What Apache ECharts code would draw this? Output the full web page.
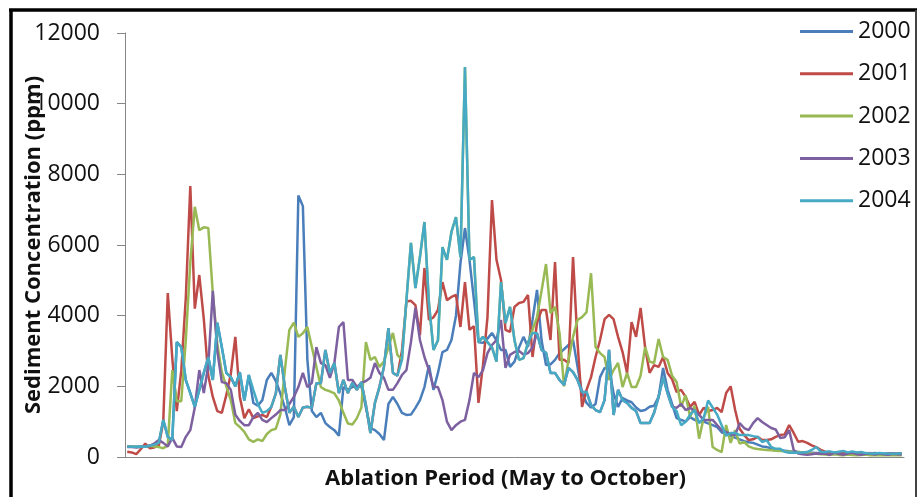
<!DOCTYPE html>
<html><head><meta charset="utf-8">
<script src="https://cdn.jsdelivr.net/npm/echarts@6/dist/echarts.min.js"></script>
<style>html,body{margin:0;padding:0;background:#fff}#c{width:918px;height:497px}</style>
</head><body><div id="c"></div>
<script>
// Day index of the ablation period (May to October), 173 daily samples
const days = Array.from({length: 173}, (_, i) => i + 1);
const seriesNames = ['2000', '2001', '2002', '2003', '2004'];
const yMin = 0, yMax = 12000, yStep = 2000;

const s2000 = [300,290,290,300,290,320,350,400,1050,570,
480,3250,3110,2180,1810,1420,1900,2380,2830,2180,
3800,3110,2380,2260,2000,2400,1600,2320,
1530,1450,1610,2180,2380,2150,1800,1400,900,1130,7400,7100,
2750,1300,1130,1250,960,850,760,600,1980,1900,
1980,2000,2000,1400,820,760,650,480,1500,1700,
1500,1250,1190,1200,1390,1610,1980,2600,1900,2380,
2970,3030,3310,4000,5490,6480,5580,4440,3250,3230,
3350,3510,3300,3030,3030,2550,2700,3100,3400,3110,
3880,4730,3310,2600,2620,2750,2940,3050,3170,3310,
2550,1810,1530,1400,1500,2260,2520,2500,1800,1420,
1670,1600,1550,1400,1300,1330,1420,1450,1700,2520,
1900,1500,1100,1050,1000,1130,1050,1000,1000,950,
900,850,700,650,600,550,500,450,420,400,
350,300,280,250,220,200,180,160,150,140,
130,120,120,110,110,100,120,100,90,110,
100,100,120,100,90,100,110,100,90,100,
100,90,100];

const s2001 = [150,130,80,220,380,250,270,320,1000,4640,
2800,1300,2450,4500,7670,4200,5150,3900,2300,1700,
1300,1250,1750,2350,3400,1700,1100,1350,1100,1150,
1190,1130,
1420,1800,2890,1980,1250,1420,1130,1400,1420,1390,2090,2090,3030,2380,2660,1810,2180,1810,2100,1900,2120,1470,680,1530,1980,2550,3650,2380,2300,
3000,4400,4420,4300,3450,5350,3880,3950,4160,
4950,4440,4530,4585,3680,4950,3600,3700,1530,2600,
3960,7270,5580,5010,3600,3540,4250,4360,4390,4585,
2830,3800,4160,4160,3310,5520,2750,2750,2660,5660,
3230,1420,1900,2260,2830,3310,3900,4020,3900,3400,
2970,2380,3820,3400,4220,3110,2380,2600,2550,2830,
2380,2200,1840,1900,1700,1420,1560,1190,1390,1300,
1330,1390,1270,1810,2000,1330,800,620,480,500,
570,480,480,500,570,620,640,905,680,430,
450,400,330,280,200,150,120,100,90,110,
100,80,100,90,100,110,90,100,80,100,
90,100,100];

const s2002 = [300,300,290,280,300,320,300,280,250,320,
2460,1580,1580,3300,5500,7080,6420,6500,6480,4640,
3200,2400,2000,1610,960,850,710,500,430,500,
450,650,760,800,1200,2460,3600,3800,3400,3500,
3680,3110,2550,1980,1900,1860,1800,1600,1250,950,
920,1100,1400,3250,2750,2830,2550,2700,3100,3510,
2890,
2750,4440,6060,4780,5660,6650,4360,3030,3300,5940,5580,6370,6790,5660,11040,5580,5660,3250,3400,3250,3100,2700,4950,3790,4250,3300,2750,2800,3230,
3600,3960,4700,5460,4070,4250,3500,2000,2750,3400,
3880,3960,4100,5200,3110,2940,2830,2180,2460,2660,
1980,2380,1980,1980,2300,3110,2700,2660,3340,2830,
2750,2300,2120,1420,1750,1130,1450,520,1100,1420,
283,200,140,905,400,760,380,425,300,250,
226,210,200,190,180,170,160,150,150,140,
130,110,100,90,80,70,60,80,60,50,
70,60,50,60,70,50,60,50,60,50,
60,50,50];

const s2003 = [280,280,270,280,300,320,380,480,400,300,
540,300,280,570,760,1400,2460,1810,2600,4700,
3000,2120,2090,1900,1200,1020,900,900,1130,1250,
1050,990,1100,1200,1330,1330,1500,1700,1980,2380,
1980,2100,3110,2660,2600,2240,2660,3680,3820,2180,
2180,1980,2100,2150,2240,2660,2380,2240,1900,1900,
2090,2320,2460,3250,4220,3310,2830,2460,1980,1980,
1610,1000,760,900,1000,1050,1610,2380,2260,2460,
2940,3170,3310,3880,2520,2890,2970,3000,2900,2940,
3100,3510,
3030,2950,2380,2380,2180,2040,2520,2400,2180,1840,1840,1470,1330,1270,1610,3030,1190,1900,1610,1530,1390,1300,960,960,960,1250,1700,2260,1800,1420,
1390,1500,1330,1390,1300,1190,1050,1050,
1050,905,760,710,650,620,960,820,760,960,
1100,990,905,820,780,540,560,760,200,100,
80,60,80,100,90,100,60,120,90,60,
100,120,80,60,100,90,70,100,80,60,
90,80,70];

const s2004 = [300,290,290,300,290,320,350,400,1050,570,
480,3250,3110,2180,1810,1420,1900,2380,2830,2180,
3800,3110,2380,2260,2000,2400,1600,2320,1900,1500,
1250,1300,1420,1800,2890,1980,1250,1420,1130,1400,
1420,1390,2090,2090,3030,2380,2660,1810,2180,1810,
2100,1900,2120,1470,680,1530,1980,2550,3650,2380,
2300,2750,4440,6060,4780,5660,6650,4360,3030,3300,
5940,5580,6370,6790,5660,11040,5580,5660,3250,3400,
3250,3100,2700,4950,3790,4250,3300,2750,2800,3230,
3510,3500,3030,2950,2380,2380,2180,2040,2520,2400,
2180,1840,1840,1470,1330,1270,1610,3030,1190,1900,
1610,1530,1390,1300,960,960,960,1250,1700,2260,
1800,1420,1300,900,1000,1200,1330,960,1100,1600,
1400,1200,900,600,680,680,620,620,620,590,
570,425,480,283,230,230,150,120,130,120,
130,140,200,283,150,140,160,130,150,170,
130,160,130,140,110,100,100,110,100,100,
90,100,100];

const seriesData = [s2000, s2001, s2002, s2003, s2004];
const colors = ['#4A7EBB', '#BE4B48', '#98B954', '#7D60A0', '#46AAC5'];

const chart = echarts.init(document.getElementById('c'), null, {renderer: 'canvas'});
chart.setOption({
  animation: false,
  backgroundColor: '#fff',
  color: colors,
  grid: {left: 125, right: 14, top: 33, bottom: 40, containLabel: false, outerBoundsMode: 'none'},
  legend: {
    orient: 'vertical', left: 795, top: 15,
    itemWidth: 53, itemHeight: 3, itemGap: 19.3, icon: 'rect',
    textStyle: {fontFamily: 'Open Sans', fontSize: 23, lineHeight: 22, color: '#111'},
    data: seriesNames
  },
  xAxis: {
    type: 'category', data: days, boundaryGap: true,
    axisLine: {lineStyle: {color: '#868686', width: 1}},
    axisTick: {interval: 9, length: 8, lineStyle: {color: '#868686'}},
    axisLabel: {show: false},
    name: 'Ablation Period (May to October)', nameLocation: 'middle', nameGap: 11,
    nameMoveOverlap: false,
    nameTextStyle: {fontFamily: 'Open Sans', fontWeight: 'bold', fontSize: 22, color: '#111', padding: [0, 18, 0, 0]}
  },
  yAxis: {
    type: 'value', min: yMin, max: yMax, interval: yStep,
    splitLine: {show: false},
    axisLine: {show: true, lineStyle: {color: '#868686', width: 1}},
    axisTick: {show: true, length: 8, lineStyle: {color: '#868686'}},
    axisLabel: {margin: 25, fontFamily: 'Open Sans', fontSize: 23, color: '#111', formatter: v => String(v)},
    name: 'Sediment Concentration (ppm)', nameLocation: 'middle', nameGap: 80,
    nameMoveOverlap: false,
    nameTextStyle: {fontFamily: 'Open Sans', fontWeight: 'bold', fontSize: 22, color: '#111'}
  },
  series: seriesNames.map((n, k) => ({
    name: n, type: 'line', data: seriesData[k], showSymbol: false,
    lineStyle: {width: 2.5, color: colors[k]}, itemStyle: {color: colors[k]}
  })),
  graphic: [
    {type: 'line', silent: true, shape: {x1: 11, y1: 9, x2: 11, y2: 497}, style: {stroke: '#000', lineWidth: 3.5}},
    {type: 'line', silent: true, shape: {x1: 9, y1: 10, x2: 917, y2: 10}, style: {stroke: '#000', lineWidth: 3.5}},
    {type: 'line', silent: true, shape: {x1: 916, y1: 10, x2: 916, y2: 497}, style: {stroke: '#444', lineWidth: 2}}
  ]
});
</script></body></html>
